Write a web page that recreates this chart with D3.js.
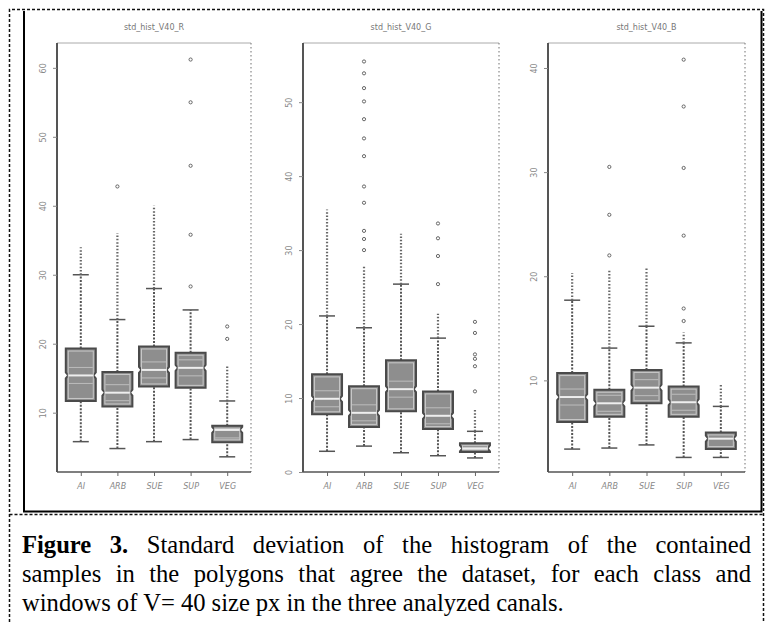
<!DOCTYPE html>
<html>
<head>
<meta charset="utf-8">
<script src="https://cdn.jsdelivr.net/npm/d3@7"></script>
<style>
  body { margin: 0; background: #fff; }
  svg { display: block; }
</style>
</head>
<body>
<div id="chart"></div>
<script>
// categories and panel titles
const categories = ["AI", "ARB", "SUE", "SUP", "VEG"];
const titles = ["std_hist_V40_R", "std_hist_V40_G", "std_hist_V40_B"];

// y ticks and domains for each panel
const ticks1 = [10, 20, 30, 40, 50, 60];
const ticks2 = [0, 10, 20, 30, 40, 50];
const ticks3 = [10, 20, 30, 40];
const domains = [[1.4, 63.6], [0, 58], [1.2, 42.4]];

// box stats panel 1
const lo1  = [5.8, 4.8, 5.8, 6.1, 3.6];
const q1_1 = [11.7, 10.9, 13.8, 13.6, 5.7];
const med1 = [15.4, 12.9, 16.2, 16.5, 7.5];
const q3_1 = [19.3, 15.9, 19.6, 18.7, 8.1];
const hi1  = [30.0, 23.5, 28.0, 24.9, 11.7];
// panel 2
const lo2  = [2.8, 3.5, 2.6, 2.2, 1.9];
const q1_2 = [7.8, 6.1, 8.2, 5.8, 2.7];
const med2 = [9.9, 8.0, 11.2, 7.6, 3.2];
const q3_2 = [13.2, 11.6, 15.1, 10.9, 3.9];
const hi2  = [21.1, 19.5, 25.4, 18.1, 5.5];
// panel 3
const lo3  = [3.4, 3.5, 3.8, 2.6, 2.6];
const q1_3 = [6.0, 6.5, 7.8, 6.5, 3.4];
const med3 = [8.4, 7.8, 9.3, 7.9, 4.4];
const q3_3 = [10.7, 9.1, 11.0, 9.4, 5.0];
const hi3  = [17.7, 13.1, 15.2, 13.6, 7.5];

// dense runs of outliers (from, to) and single outliers
const dense1 = [[30, 34], [23.5, 36], [28, 40], null, [11.7, 16.7]];
const out1 = [[], [42.8], [], [28.3, 35.8, 45.8, 55, 61.2], [20.7, 22.5]];
const dense2 = [[21.1, 35.5], [19.5, 28], [25.4, 32.2], [18.1, 21.4], [5.5, 8.6]];
const out2 = [[], [30, 31.5, 32.6, 36.4, 38.6, 42.7, 45.1, 47.7, 50.1, 51.9, 53.9, 55.5], [],
              [25.4, 29.2, 31.6, 33.6], [10.9, 14.3, 15.3, 15.9, 18.8, 20.3]];
const dense3 = [[17.7, 20.3], [13.1, 20.6], [15.2, 20.9], [13.6, 14.6], [7.5, 9.7]];
const out3 = [[], [22, 25.9, 30.5], [], [15.7, 16.9, 23.9, 30.4, 36.3, 40.8], []];

const captionBold = "Figure 3.";
const captionLines = [
  "Standard deviation of the histogram of the contained",
  "samples in the polygons that agree the dataset, for each class and",
  "windows of V= 40 size px in the three analyzed canals."
];

const W = 767, H = 622;
const svg = d3.select("#chart").append("svg").attr("width", W).attr("height", H);

// outer frame
const dash = "3,2";
svg.append("path")
  .attr("d", "M9.5,622 V9.5 H763.5 V622")
  .attr("fill", "none").attr("stroke", "#111").attr("stroke-width", 1.5)
  .attr("stroke-dasharray", dash);
svg.append("line").attr("x1", 9.5).attr("x2", 763.5).attr("y1", 514.5).attr("y2", 514.5)
  .attr("stroke", "#111").attr("stroke-width", 1.5).attr("stroke-dasharray", dash);
svg.append("path")
  .attr("d", "M24,11 V511.5 H761.5 V11")
  .attr("fill", "none").attr("stroke", "#000").attr("stroke-width", 2);

const panels = [
  { x: 57, w: 194, ticks: ticks1, lo: lo1, q1: q1_1, med: med1, q3: q3_1, hi: hi1, dense: dense1, out: out1 },
  { x: 303, w: 196, ticks: ticks2, lo: lo2, q1: q1_2, med: med2, q3: q3_2, hi: hi2, dense: dense2, out: out2 },
  { x: 548, w: 197, ticks: ticks3, lo: lo3, q1: q1_3, med: med3, q3: q3_3, hi: hi3, dense: dense3, out: out3 }
];
const plotTop = 43, plotBottom = 472;
const boxW = 30, capW = 16;

panels.forEach((p, pi) => {
  const g = svg.append("g");
  const x = d3.scalePoint().domain(categories).range([p.x, p.x + p.w]).padding(0.65);
  const y = d3.scaleLinear().domain(domains[pi]).range([plotBottom, plotTop]);

  // title
  g.append("text")
    .attr("x", p.x + p.w / 2).attr("y", 30)
    .attr("text-anchor", "middle")
    .attr("font-family", "DejaVu Sans, sans-serif").attr("font-size", 8)
    .attr("fill", "#777")
    .text(titles[pi]);

  // top and right frame lines
  g.append("line").attr("x1", p.x).attr("x2", p.x + p.w).attr("y1", plotTop).attr("y2", plotTop)
    .attr("stroke", "#aaa").attr("stroke-width", 1);
  g.append("line").attr("x1", p.x + p.w).attr("x2", p.x + p.w).attr("y1", plotTop).attr("y2", plotBottom)
    .attr("stroke", "#888").attr("stroke-width", 1.2).attr("stroke-dasharray", "1.5,2.5");

  // left axis
  const ya = g.append("g").attr("transform", `translate(${p.x},0)`)
    .call(d3.axisLeft(y).tickValues(p.ticks).tickSize(4).tickFormat(d3.format("d")));
  ya.select(".domain").attr("stroke", "#555").attr("stroke-width", 2)
    .attr("d", `M0,${plotTop}V${plotBottom}`);
  ya.selectAll(".tick line").attr("stroke", "#888");
  ya.selectAll(".tick text")
    .attr("font-family", "DejaVu Sans, sans-serif").attr("font-size", 8).attr("fill", "#888")
    .attr("transform", "rotate(-90)")
    .attr("x", 0).attr("y", -11).attr("dy", 0)
    .attr("text-anchor", "middle");

  // bottom axis
  const xa = g.append("g").attr("transform", `translate(0,${plotBottom})`)
    .call(d3.axisBottom(x).tickSize(4).tickPadding(7));
  xa.select(".domain").attr("stroke", "#555").attr("stroke-width", 1.6)
    .attr("d", `M${p.x},0H${p.x + p.w}`);
  xa.selectAll(".tick line").attr("stroke", "#666");
  xa.selectAll(".tick text")
    .attr("font-family", "DejaVu Sans, sans-serif").attr("font-size", 8).attr("fill", "#888")
    .attr("font-style", "italic");

  categories.forEach((c, i) => {
    const cx = x(c);
    // whiskers
    [[p.lo[i], p.q1[i]], [p.q3[i], p.hi[i]]].forEach(([a, b]) => {
      g.append("line").attr("x1", cx).attr("x2", cx).attr("y1", y(a)).attr("y2", y(b))
        .attr("stroke", "#555").attr("stroke-width", 2).attr("stroke-dasharray", "2,1.5");
    });
    [p.lo[i], p.hi[i]].forEach(v => {
      g.append("line").attr("x1", cx - capW / 2).attr("x2", cx + capW / 2)
        .attr("y1", y(v)).attr("y2", y(v))
        .attr("stroke", "#555").attr("stroke-width", 1.5);
    });
    // dense outliers
    if (p.dense[i]) {
      g.append("line").attr("x1", cx).attr("x2", cx)
        .attr("y1", y(p.dense[i][0])).attr("y2", y(p.dense[i][1]))
        .attr("stroke", "#666").attr("stroke-width", 2.2).attr("stroke-dasharray", "1.5,1.8");
    }
    // single outliers
    g.selectAll(null).data(p.out[i]).enter().append("circle")
      .attr("cx", cx).attr("cy", d => y(d)).attr("r", 1.6)
      .attr("fill", "none").attr("stroke", "#666").attr("stroke-width", 1);

    // notched box
    const yq1 = y(p.q1[i]), yq3 = y(p.q3[i]), ym = y(p.med[i]);
    const n = Math.min(3, Math.abs(yq1 - ym) - 0.5, Math.abs(ym - yq3) - 0.5);
    const x0 = cx - boxW / 2, x1 = cx + boxW / 2, nd = 2.5;
    const d = `M${x0},${yq3}H${x1}V${ym - n}L${x1 - nd},${ym}L${x1},${ym + n}V${yq1}H${x0}V${ym + n}L${x0 + nd},${ym}L${x0},${ym - n}Z`;
    g.append("path").attr("d", d)
      .attr("fill", "#8e8e8e").attr("stroke", "#4a4a4a").attr("stroke-width", 2);
    // inner light border
    g.append("rect").attr("x", x0 + 2.5).attr("y", yq3 + 2.5)
      .attr("width", boxW - 5).attr("height", Math.max(0, yq1 - yq3 - 5))
      .attr("fill", "none").attr("stroke", "#c8c8c8").attr("stroke-width", 1);
    // light bands inside box
    [ym - 8, ym + 8].forEach(yy => {
      if (yy > yq3 + 3 && yy < yq1 - 3) {
        g.append("line").attr("x1", x0 + 3).attr("x2", x1 - 3).attr("y1", yy).attr("y2", yy)
          .attr("stroke", "#bdbdbd").attr("stroke-width", 1);
      }
    });
    // median
    g.append("line").attr("x1", x0 + nd).attr("x2", x1 - nd).attr("y1", ym).attr("y2", ym)
      .attr("stroke", "#eee").attr("stroke-width", 2);
  });
});

// caption, justified lines
const cap = svg.append("g")
  .attr("font-family", "Liberation Serif, Times New Roman, serif")
  .attr("font-size", 24.6).attr("fill", "#000");
const capLeft = 22, capRight = 751, baselines = [553, 582, 611];

function layoutLine(words, yb, justify, boldFirst) {
  const items = words.map((w, k) => {
    const t = cap.append("text").attr("y", yb).text(w);
    if (boldFirst && k < 2) t.attr("font-weight", "bold");
    return { t, len: t.node().getComputedTextLength() };
  });
  const total = d3.sum(items, d => d.len);
  const gap = justify ? (capRight - capLeft - total) / (items.length - 1) : 6;
  let cx = capLeft;
  items.forEach(it => { it.t.attr("x", cx); cx += it.len + gap; });
}
layoutLine((captionBold + " " + captionLines[0]).split(" "), baselines[0], true, true);
layoutLine(captionLines[1].split(" "), baselines[1], true, false);
layoutLine(captionLines[2].split(" "), baselines[2], false, false);
</script>
</body>
</html>
